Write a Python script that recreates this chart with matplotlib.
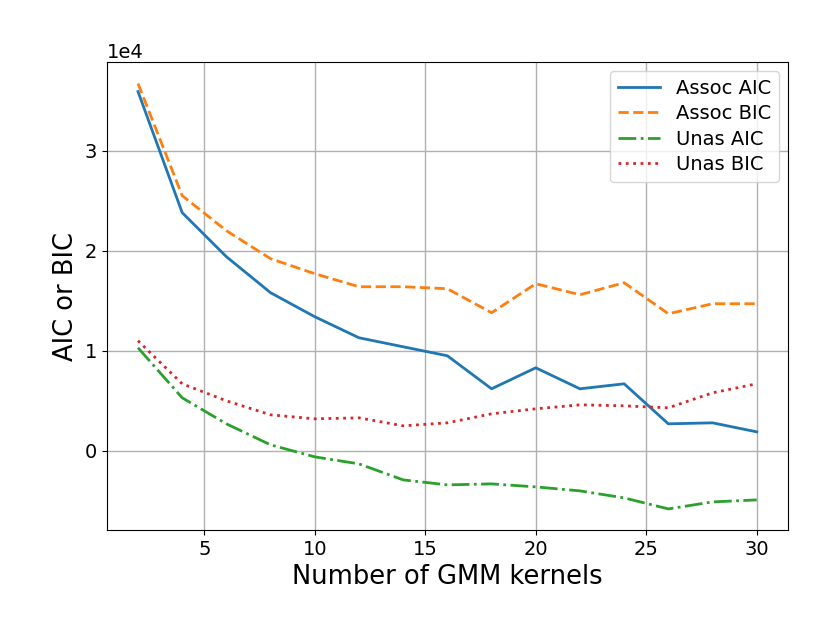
import numpy as np
import matplotlib.pyplot as plt

# number of GMM kernels
kernels = [2, 4, 6, 8, 10, 12, 14, 16, 18, 20, 22, 24, 26, 28, 30]

# criteria values (in units of 1e4)
assoc_aic = [3.59, 2.38, 1.94, 1.58, 1.34, 1.13, 1.04, 0.95, 0.62, 0.83, 0.62, 0.67, 0.27, 0.28, 0.19]
assoc_bic = [3.67, 2.55, 2.20, 1.92, 1.77, 1.64, 1.64, 1.62, 1.38, 1.67, 1.56, 1.68, 1.37, 1.47, 1.47]
unas_aic = [1.03, 0.53, 0.27, 0.06, -0.06, -0.13, -0.29, -0.34, -0.33, -0.36, -0.40, -0.47, -0.58, -0.51, -0.49]
unas_bic = [1.10, 0.67, 0.50, 0.36, 0.32, 0.33, 0.25, 0.28, 0.37, 0.42, 0.46, 0.45, 0.43, 0.58, 0.67]

fig = plt.figure(figsize=(8.3, 6.23), dpi=100)
ax = fig.add_axes([0.129, 0.149, 0.820, 0.751])

lw = 2.0
ax.plot(kernels, np.array(assoc_aic) * 1e4, '-', lw=lw, label='Assoc AIC')
ax.plot(kernels, np.array(assoc_bic) * 1e4, '--', lw=lw, label='Assoc BIC')
ax.plot(kernels, np.array(unas_aic) * 1e4, '-.', lw=lw, label='Unas AIC')
ax.plot(kernels, np.array(unas_bic) * 1e4, ':', lw=lw, label='Unas BIC')

ax.grid(True, color='#b0b0b0', lw=1.0)
ax.ticklabel_format(axis='y', style='sci', scilimits=(0, 0))
ax.tick_params(labelsize=14)
ax.yaxis.get_offset_text().set_fontsize(14)
ax.set_xlabel('Number of GMM kernels', fontsize=18.5)
ax.set_ylabel('AIC or BIC', fontsize=18.5)
ax.legend(loc='upper right', fontsize=14, labelspacing=0.33,
          handlelength=2.2, borderaxespad=0.45)

fig.savefig('out.png', dpi=100)
